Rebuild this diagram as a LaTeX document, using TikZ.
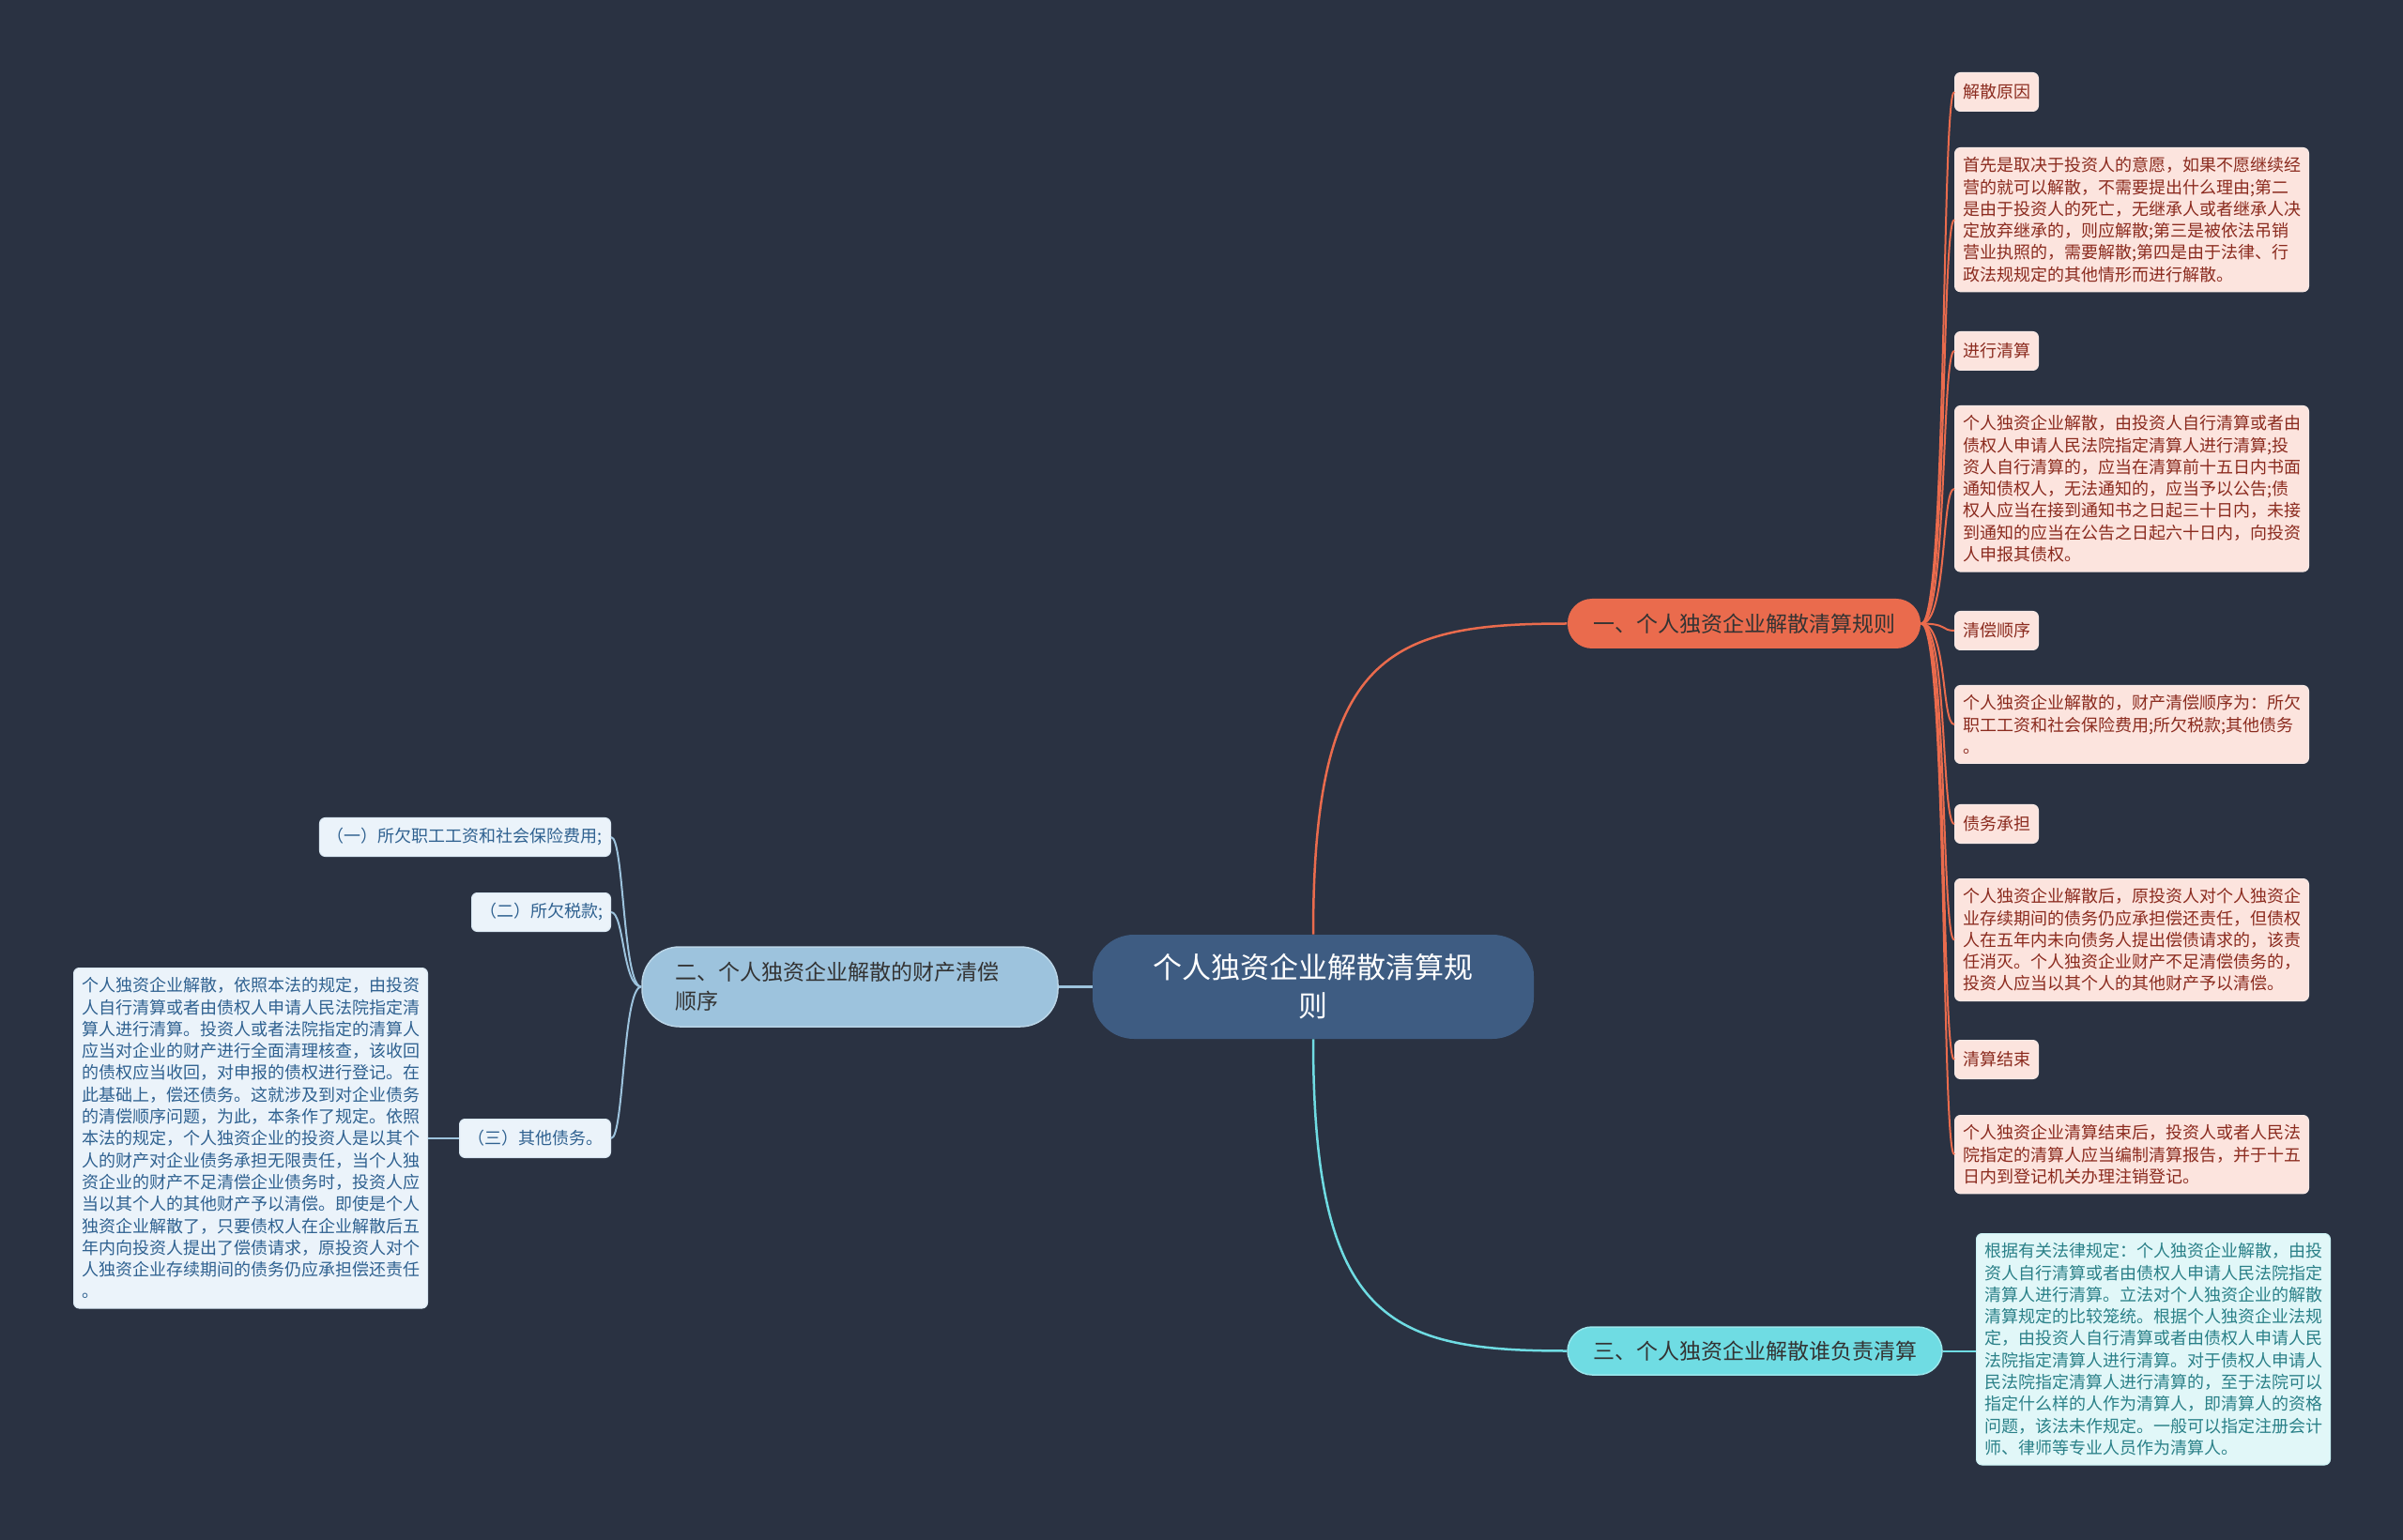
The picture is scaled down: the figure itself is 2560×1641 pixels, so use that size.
\documentclass[tikz,border=0pt]{standalone}
\usepackage{fontspec}
\setmainfont{Noto Sans CJK SC}
\definecolor{bgcol}{HTML}{2A3242}
\definecolor{rootcol}{HTML}{3E5C82}
\definecolor{orcol}{HTML}{EA6B4D}
\definecolor{orleaf}{HTML}{FCE4DE}
\definecolor{ortext}{HTML}{8B2B1F}
\definecolor{blcol}{HTML}{9DC3DD}
\definecolor{blleaf}{HTML}{EBF3FA}
\definecolor{bltext}{HTML}{2F6190}
\definecolor{cycol}{HTML}{6FDCE3}
\definecolor{cyleaf}{HTML}{E1F7F8}
\definecolor{cytext}{HTML}{2A8088}
\newcommand\leaffont{\fontsize{9}{11.65}\selectfont}
\newcommand\branchfont{\fontsize{11.5}{15.5}\selectfont}
\newcommand\rootfont{\fontsize{15.5}{20.5}\selectfont}
\tikzset{
     rootbox/.style = { fill=rootcol, text=white, font=\rootfont, align=center,
                        rounded corners=22pt, minimum width=235pt, minimum height=55.5pt },
   branchbox/.style = { font=\branchfont, text=black!80, rounded corners=13pt,
                        line width=0.75pt },
    leafbox/.style = { font=\leaffont, align=left, rounded corners=3pt,
                        inner xsep=4.25pt, inner ysep=5pt, minimum height=20.5pt,
                        line width=0.5pt },
      leafR/.style = { leafbox, fill=orleaf, draw=orleaf!85!ortext!40, text=ortext,
                        anchor=north west },
      leafL/.style = { leafbox, fill=blleaf, draw=blleaf!80!blcol, text=bltext,
                        anchor=north east },
      leafC/.style = { leafbox, fill=cyleaf, draw=cyleaf!80!cycol, text=cytext,
                        anchor=north west },
    mainline/.style = { line width=1.25pt },
    orline/.style = { line width=1pt, color=orcol },
    blline/.style = { line width=1pt, color=blcol },
    cyline/.style = { line width=1pt, color=cycol }
}
\begin{document}
\begin{tikzpicture}[x=0.5pt,y=-0.5pt]
  \fill[bgcol] (0,0) rectangle (2560,1641);

  \node[rootbox] (root) at (1399,1051.5) {个人独资企业解散清算规\\则};

  \node[branchbox, fill=orcol, minimum width=188pt, minimum height=26.5pt]
    (b1) at (1858,664.5) {一、个人独资企业解散清算规则};
  \node[branchbox, fill=blcol, draw=blcol!70!white, rounded corners=20pt,
        minimum width=221.5pt, minimum height=42.5pt, text width=186pt, align=left]
    (b2) at (905.5,1051.5) {二、个人独资企业解散的财产清偿\\顺序};
  \node[branchbox, fill=cycol, draw=cycol!70!white, minimum width=199.5pt, minimum height=25.5pt]
    (b3) at (1869.5,1439.5) {三、个人独资企业解散谁负责清算};

  % right side
  \node[leafR] (r1) at (2082,77) {解散原因};
  \node[leafR] (r2) at (2082,157) {首先是取决于投资人的意愿，如果不愿继续经\\营的就可以解散，不需要提出什么理由;第二\\是由于投资人的死亡，无继承人或者继承人决\\定放弃继承的，则应解散;第三是被依法吊销\\营业执照的，需要解散;第四是由于法律、行\\政法规规定的其他情形而进行解散。};
  \node[leafR] (r3) at (2082,353) {进行清算};
  \node[leafR] (r4) at (2082,432) {个人独资企业解散，由投资人自行清算或者由\\债权人申请人民法院指定清算人进行清算;投\\资人自行清算的，应当在清算前十五日内书面\\通知债权人，无法通知的，应当予以公告;债\\权人应当在接到通知书之日起三十日内，未接\\到通知的应当在公告之日起六十日内，向投资\\人申报其债权。};
  \node[leafR] (r5) at (2082,651) {清偿顺序};
  \node[leafR] (r6) at (2082,730) {个人独资企业解散的，财产清偿顺序为：所欠\\职工工资和社会保险费用;所欠税款;其他债务\\。};
  \node[leafR] (r7) at (2082,857) {债务承担};
  \node[leafR] (r8) at (2082,936) {个人独资企业解散后，原投资人对个人独资企\\业存续期间的债务仍应承担偿还责任，但债权\\人在五年内未向债务人提出偿债请求的，该责\\任消灭。个人独资企业财产不足清偿债务的，\\投资人应当以其个人的其他财产予以清偿。};
  \node[leafR] (r9) at (2082,1108) {清算结束};
  \node[leafR] (r10) at (2082,1188) {个人独资企业清算结束后，投资人或者人民法\\院指定的清算人应当编制清算报告，并于十五\\日内到登记机关办理注销登记。};

  \node[leafC] (c1) at (2105,1314) {根据有关法律规定：个人独资企业解散，由投\\资人自行清算或者由债权人申请人民法院指定\\清算人进行清算。立法对个人独资企业的解散\\清算规定的比较笼统。根据个人独资企业法规\\定，由投资人自行清算或者由债权人申请人民\\法院指定清算人进行清算。对于债权人申请人\\民法院指定清算人进行清算的，至于法院可以\\指定什么样的人作为清算人，即清算人的资格\\问题，该法未作规定。一般可以指定注册会计\\师、律师等专业人员作为清算人。};

  % left side
  \node[leafL] (l1) at (651,871) {（一）所欠职工工资和社会保险费用;};
  \node[leafL] (l2) at (651,951) {（二）所欠税款;};
  \node[leafL] (l3) at (651,1192) {（三）其他债务。};
  \node[leafL] (lp) at (456,1031) {个人独资企业解散，依照本法的规定，由投资\\人自行清算或者由债权人申请人民法院指定清\\算人进行清算。投资人或者法院指定的清算人\\应当对企业的财产进行全面清理核查，该收回\\的债权应当收回，对申报的债权进行登记。在\\此基础上，偿还债务。这就涉及到对企业债务\\的清偿顺序问题，为此，本条作了规定。依照\\本法的规定，个人独资企业的投资人是以其个\\人的财产对企业债务承担无限责任，当个人独\\资企业的财产不足清偿企业债务时，投资人应\\当以其个人的其他财产予以清偿。即使是个人\\独资企业解散了，只要债权人在企业解散后五\\年内向投资人提出了偿债请求，原投资人对个\\人独资企业存续期间的债务仍应承担偿还责任\\。};

  \draw[mainline, orcol] (root.north) .. controls +(0,-300) and +(-190,0) .. (b1.west);
  \draw[mainline, cycol] (root.south) .. controls +(0,300) and +(-190,0) .. (b3.west);
  \draw[mainline, blcol] (root.west) -- (b2.east);

  \foreach \n in {r1,r2,r3,r4,r5,r6,r7,r8,r9,r10}
    \draw[orline] (b1.east) .. controls +(28,0) and +(-14,0) .. (\n.west);
  \foreach \n in {l1,l2,l3}
    \draw[blline] (b2.west) .. controls +(-20,0) and +(14,0) .. (\n.east);
  \draw[blline] (l3.west) -- (l3.west -| lp.east);
  \draw[cyline] (b3.east) -- (b3.east -| c1.west);
\end{tikzpicture}
\end{document}
